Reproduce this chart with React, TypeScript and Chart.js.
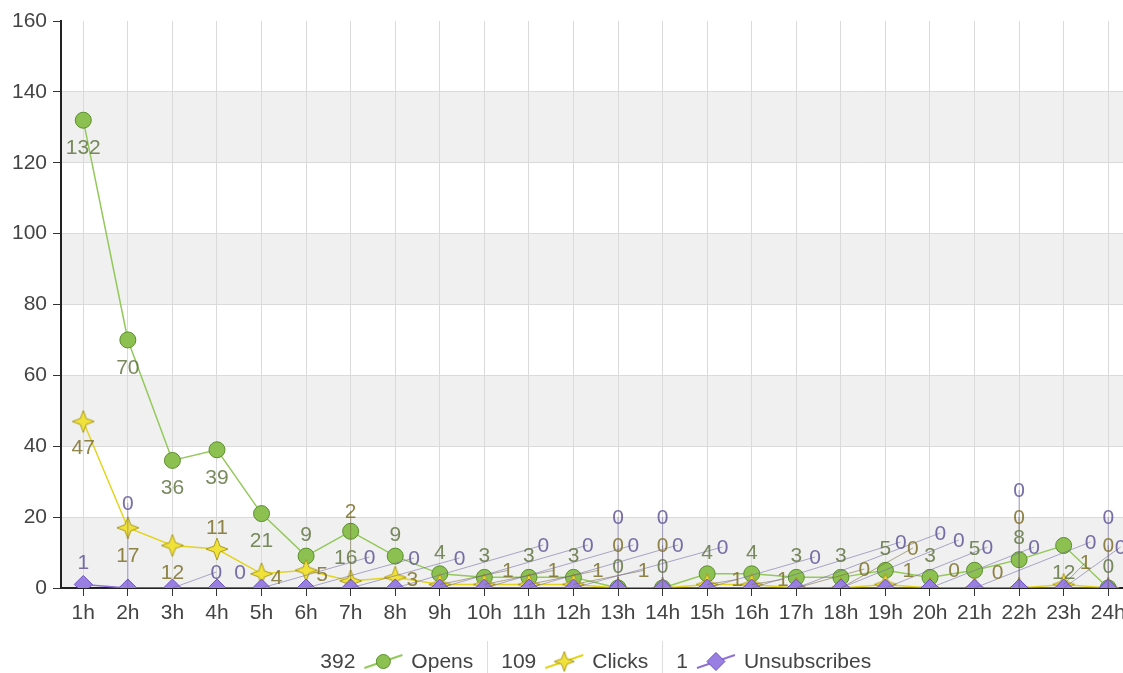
import React, { useEffect, useRef } from "react";
import { Chart, registerables } from "chart.js";

Chart.register(...registerables);

// ---------- data ----------
const categories = [
  "1h", "2h", "3h", "4h", "5h", "6h", "7h", "8h", "9h", "10h", "11h", "12h",
  "13h", "14h", "15h", "16h", "17h", "18h", "19h", "20h", "21h", "22h", "23h", "24h",
];
const opens = [132, 70, 36, 39, 21, 9, 16, 9, 4, 3, 3, 3, 0, 0, 4, 4, 3, 3, 5, 3, 5, 8, 12, 0];
const clicks = [47, 17, 12, 11, 4, 5, 2, 3, 1, 1, 1, 1, 0, 0, 1, 1, 0, 0, 1, 0, 0, 0, 1, 0];
const unsubscribes = [1, 0, 0, 0, 0, 0, 0, 0, 0, 0, 0, 0, 0, 0, 0, 0, 0, 0, 0, 0, 0, 0, 0, 0];
const seriesNames = ["Opens", "Clicks", "Unsubscribes"];
const yTicks = [0, 20, 40, 60, 80, 100, 120, 140, 160];
const shadedBands = [[0, 20], [40, 60], [80, 100], [120, 140]];

// ---------- label placement (style: pixel offsets of value labels from their point) ----------
const B: [number, number] = [0, 27];
const A: [number, number] = [0, -22];
const opensLabelOffsets: [number, number][] = [
  B, B, B, B, B, A, [-5, 26], A, A, A, A, A, A, A, A, A, A, A, A, A, A, A, B, A,
];
const clicksLabelOffsets: [number, number][] = [
  [0, 26], [0, 27], [0, 27], [0, -22], [15, 3], [16, 4], [0, -70], [17, 2],
  [68, -14], [69, -14], [69, -14], [70, -14], [0, -43], [0, -43], [30, -5], [31, -5],
  [68, -19], [72, -40], [23, -14], [24, -18], [23, -16], [0, -71], [22, -22], [0, -43],
];
const unsubLabelOffsets: [number, number][] = [
  [0, -22], [0, -85], [44, -16], [23, -16], [108, -31], [108, -30], [109, -30], [148, -43],
  [148, -43], [149, -43], [149, -43], [149, -41], [0, -71], [0, -71], [108, -31], [149, -46],
  [144, -55], [118, -48], [102, -41], [104, -41], [116, -46], [0, -98], [57, -41], [0, -71],
];

const FONT_FAMILY = "'Liberation Sans', Arial, Helvetica, sans-serif";
const FONT_SIZE = 21;

const OPEN_LINE = "#93c95a";
const OPEN_FILL = "#8cc152";
const OPEN_BORDER = "#5b8e2c";
const CLICK_LINE = "#e3d41f";
const CLICK_FILL = "#f1e23a";
const CLICK_BORDER = "#a99a18";
const UNSUB_LINE = "#8e72d6";
const UNSUB_FILL = "#9a7fe2";
const UNSUB_BORDER = "#6b50c2";

const labelColors = ["rgba(96,118,66,0.85)", "rgba(124,112,40,0.85)", "rgba(98,86,150,0.85)"];
const leaderColors = ["rgba(96,118,66,0.5)", "rgba(110,100,50,0.55)", "rgba(110,98,160,0.55)"];

function makeStar(size: number, fill: string, stroke: string): HTMLCanvasElement {
  const c = document.createElement("canvas");
  c.width = size;
  c.height = size;
  const ctx = c.getContext("2d")!;
  const cx = size / 2;
  const R = size / 2 - 1;
  const r = R * 0.38;
  ctx.beginPath();
  for (let i = 0; i < 8; i++) {
    const ang = -Math.PI / 2 + (i * Math.PI) / 4;
    const rad = i % 2 === 0 ? R : r;
    const px = cx + rad * Math.cos(ang);
    const py = cx + rad * Math.sin(ang);
    if (i === 0) ctx.moveTo(px, py);
    else ctx.lineTo(px, py);
  }
  ctx.closePath();
  ctx.fillStyle = fill;
  ctx.fill();
  ctx.lineWidth = 1;
  ctx.strokeStyle = stroke;
  ctx.stroke();
  return c;
}

export default function App() {
  const ref = useRef<HTMLCanvasElement>(null);

  useEffect(() => {
    document.body.style.margin = "0";
    document.body.style.overflow = "hidden";
    const star = makeStar(24, CLICK_FILL, CLICK_BORDER);
    const smallStar = makeStar(22, CLICK_FILL, CLICK_BORDER);
    const offsets = [opensLabelOffsets, clicksLabelOffsets, unsubLabelOffsets];

    const bandsPlugin = {
      id: "bands",
      beforeDraw(chart: any) {
        const { ctx, chartArea } = chart;
        const y = chart.scales.y;
        ctx.save();
        ctx.fillStyle = "#f0f0f0";
        for (const [a, b] of shadedBands) {
          const top = y.getPixelForValue(b);
          const bot = y.getPixelForValue(a);
          ctx.fillRect(chartArea.left, top, chartArea.right - chartArea.left, bot - top);
        }
        ctx.restore();
      },
    };

    const labelsPlugin = {
      id: "valueLabels",
      afterDatasetsDraw(chart: any) {
        const { ctx } = chart;
        ctx.save();
        chart.data.datasets.forEach((ds: any, di: number) => {
          const meta = chart.getDatasetMeta(di);
          meta.data.forEach((el: any, i: number) => {
            const [dx, dy] = offsets[di][i];
            if (Math.hypot(dx, dy) > 30) {
              ctx.beginPath();
              ctx.strokeStyle = leaderColors[di];
              ctx.lineWidth = 1;
              ctx.moveTo(el.x, el.y);
              ctx.lineTo(el.x + dx, el.y + dy);
              ctx.stroke();
            }
          });
        });
        ctx.font = `${FONT_SIZE}px ${FONT_FAMILY}`;
        ctx.textAlign = "center";
        ctx.textBaseline = "middle";
        chart.data.datasets.forEach((ds: any, di: number) => {
          const meta = chart.getDatasetMeta(di);
          ctx.fillStyle = labelColors[di];
          meta.data.forEach((el: any, i: number) => {
            const [dx, dy] = offsets[di][i];
            ctx.fillText(String(ds.data[i]), el.x + dx, el.y + dy + 1);
          });
        });
        ctx.restore();
      },
    };

    const legendPlugin = {
      id: "customLegend",
      afterDraw(chart: any) {
        const { ctx, chartArea } = chart;
        const totals = [opens, clicks, unsubscribes].map((arr) => arr.reduce((s, v) => s + v, 0));
        ctx.save();
        ctx.font = `${FONT_SIZE}px ${FONT_FAMILY}`;
        ctx.textBaseline = "middle";
        ctx.textAlign = "left";
        const iconW = 38;
        const gapNumIcon = 9;
        const gapIconText = 9;
        const gapSep = 14;
        const items = seriesNames.map((name, i) => {
          const numW = ctx.measureText(String(totals[i])).width;
          const nameW = ctx.measureText(name).width;
          return { name, num: String(totals[i]), numW, nameW, w: numW + gapNumIcon + iconW + gapIconText + nameW };
        });
        const total = items.reduce((s, it) => s + it.w, 0) + (items.length - 1) * gapSep * 2;
        let x = (chartArea.left + chartArea.right) / 2 - total / 2;
        const cy = 661;
        const lineCols = [OPEN_LINE, CLICK_LINE, UNSUB_LINE];
        items.forEach((it, i) => {
          ctx.fillStyle = "#444";
          ctx.fillText(it.num, x, cy + 1);
          x += it.numW + gapNumIcon;
          ctx.beginPath();
          ctx.strokeStyle = lineCols[i];
          ctx.lineWidth = 2;
          ctx.moveTo(x, cy + 7);
          ctx.lineTo(x + iconW, cy - 6);
          ctx.stroke();
          const mx = x + iconW / 2;
          const my = cy + 0.5;
          if (i === 0) {
            ctx.beginPath();
            ctx.arc(mx, my, 7, 0, Math.PI * 2);
            ctx.fillStyle = OPEN_FILL;
            ctx.fill();
            ctx.lineWidth = 1;
            ctx.strokeStyle = OPEN_BORDER;
            ctx.stroke();
          } else if (i === 1) {
            ctx.drawImage(smallStar, mx - 11, my - 11);
          } else {
            ctx.beginPath();
            ctx.moveTo(mx, my - 9);
            ctx.lineTo(mx + 9, my);
            ctx.lineTo(mx, my + 9);
            ctx.lineTo(mx - 9, my);
            ctx.closePath();
            ctx.fillStyle = UNSUB_FILL;
            ctx.fill();
            ctx.lineWidth = 1;
            ctx.strokeStyle = UNSUB_BORDER;
            ctx.stroke();
          }
          x += iconW + gapIconText;
          ctx.fillStyle = "#444";
          ctx.fillText(it.name, x, cy + 1);
          x += it.nameW;
          if (i < items.length - 1) {
            x += gapSep;
            ctx.beginPath();
            ctx.strokeStyle = "#dddddd";
            ctx.lineWidth = 1;
            ctx.moveTo(Math.round(x) + 0.5, 641);
            ctx.lineTo(Math.round(x) + 0.5, 673);
            ctx.stroke();
            x += gapSep;
          }
        });
        ctx.restore();
      },
    };

    const tickFont = { family: FONT_FAMILY, size: FONT_SIZE };

    const chart = new Chart(ref.current!, {
      type: "line",
      data: {
        labels: categories,
        datasets: [
          {
            label: seriesNames[0],
            data: opens,
            borderColor: OPEN_LINE,
            borderWidth: 1.5,
            pointStyle: "circle",
            pointRadius: 8,
            pointBackgroundColor: OPEN_FILL,
            pointBorderColor: OPEN_BORDER,
            pointBorderWidth: 1,
            tension: 0,
            order: 2,
            clip: 0,
          },
          {
            label: seriesNames[1],
            data: clicks,
            borderColor: CLICK_LINE,
            borderWidth: 1.5,
            pointStyle: star,
            pointRadius: 12,
            tension: 0,
            order: 1,
            clip: 0,
          },
          {
            label: seriesNames[2],
            data: unsubscribes,
            borderColor: UNSUB_LINE,
            borderWidth: 1.5,
            pointStyle: "rectRot",
            pointRadius: 9,
            pointBackgroundColor: UNSUB_FILL,
            pointBorderColor: UNSUB_BORDER,
            pointBorderWidth: 1,
            tension: 0,
            order: 0,
            clip: 0,
          },
        ] as any,
      },
      options: {
        animation: false,
        responsive: true,
        maintainAspectRatio: false,
        layout: { padding: { top: 21, left: 0, right: 0, bottom: 0 } },
        plugins: {
          legend: { display: false },
          tooltip: { enabled: false },
        },
        scales: {
          x: {
            type: "category",
            offset: true,
            grid: {
              offset: false,
              color: "#dadada",
              lineWidth: 1,
              tickColor: "#333",
              tickLength: 8,
            },
            border: { color: "#222", width: 2 },
            ticks: {
              color: "#444",
              font: tickFont,
              padding: 5,
              autoSkip: false,
              maxRotation: 0,
            },
            afterFit(scale: any) {
              scale.height = 85;
            },
          },
          y: {
            min: 0,
            max: 160,
            afterBuildTicks(scale: any) {
              scale.ticks = yTicks.map((v) => ({ value: v }));
            },
            grid: {
              color: (c: any) => (c.tick && c.tick.value === 160 ? "rgba(0,0,0,0)" : "#dadada"),
              lineWidth: 1,
              tickColor: "#333",
              tickLength: 8,
            },
            border: { color: "#222", width: 2 },
            ticks: {
              color: "#444",
              font: tickFont,
              padding: 6,
            },
            afterFit(scale: any) {
              scale.width = 61;
            },
          },
        },
      },
      plugins: [bandsPlugin, labelsPlugin, legendPlugin],
    });

    return () => chart.destroy();
  }, []);

  return (
    <div style={{ width: 1123, height: 673, overflow: "hidden", position: "relative" }}>
      <div style={{ width: 1144, height: 673, position: "relative" }}>
        <canvas ref={ref} />
      </div>
    </div>
  );
}
